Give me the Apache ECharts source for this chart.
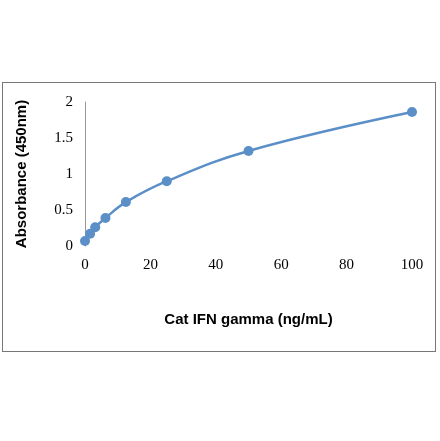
<!DOCTYPE html><html><head><meta charset="utf-8">
<script src="https://cdn.jsdelivr.net/npm/echarts@6/dist/echarts.min.js"></script>
<style>html,body{margin:0;padding:0;background:#fff}#c{width:440px;height:441px}
#box{position:absolute;left:2px;top:82px;width:434px;height:270px;border:1px solid #777;box-sizing:border-box}</style>
</head><body><div id="box"></div><div id="c" style="position:absolute;left:0;top:0"></div><script>
const concentrations=[0,1.56,3.125,6.25,12.5,25,50,100];
const absorbance=[0.07,0.17,0.26,0.39,0.61,0.9,1.32,1.86];
const xTicks=[0,20,40,60,80,100];
const yTicks=[0,0.5,1,1.5,2];
const ch=echarts.init(document.getElementById('c'));
ch.setOption({
 animation:false,
 grid:{left:85,top:102,width:327,height:144},
 xAxis:{type:'value',min:0,max:100,interval:20,name:'Cat IFN gamma (ng/mL)',nameLocation:'middle',nameGap:66,
  nameTextStyle:{fontFamily:'Liberation Sans',fontWeight:'bold',fontSize:15,color:'#000'},
  axisLine:{show:false},axisTick:{show:false},splitLine:{show:false},
  axisLabel:{fontFamily:'Liberation Serif',fontSize:15,color:'#000',margin:12}},
 yAxis:{type:'value',min:0,max:2,interval:0.5,name:'Absorbance (450nm)',nameLocation:'middle',nameGap:56,
  nameTextStyle:{fontFamily:'Liberation Sans',fontWeight:'bold',fontSize:15,color:'#000'},
  axisLine:{show:true,lineStyle:{color:'#999'}},axisTick:{show:false},splitLine:{show:false},
  axisLabel:{fontFamily:'Liberation Serif',fontSize:15,color:'#000',margin:12}},
 series:[{type:'line',smooth:0.4,data:concentrations.map((c,i)=>[c,absorbance[i]]),
  symbol:'circle',symbolSize:10,lineStyle:{color:'#5b8fc7',width:2.5},itemStyle:{color:'#5b8fc7'}}]
});
</script></body></html>
